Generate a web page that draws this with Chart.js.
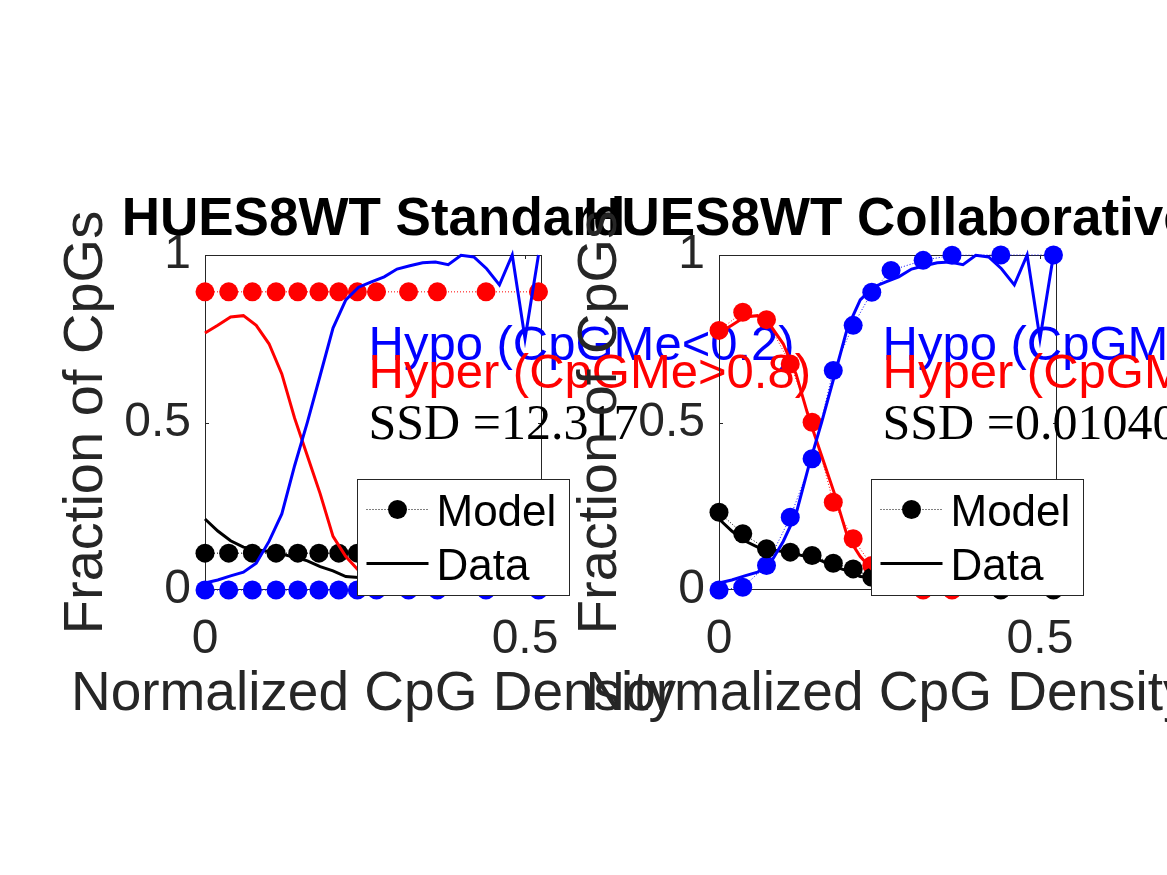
<!DOCTYPE html>
<html>
<head>
<meta charset="utf-8">
<script src="https://cdn.jsdelivr.net/npm/chart.js@4.4.0/dist/chart.umd.min.js"></script>
<style>
  html, body { margin: 0; padding: 0; background: #fff; }
  #wrap { position: relative; width: 1167px; height: 875px; overflow: hidden; }
  #wrap canvas { position: absolute; left: 0; top: 0; }
</style>
</head>
<body>
<div id="wrap">
  <canvas id="standard" width="1167" height="875"></canvas>
  <canvas id="collab" width="1167" height="875"></canvas>
</div>
<script>
// measured data curves (same in both panels)
const densityGrid = [0, 0.02, 0.04, 0.06, 0.08, 0.10, 0.12, 0.14, 0.16, 0.18, 0.20, 0.22, 0.24, 0.26,
  0.28, 0.30, 0.32, 0.34, 0.36, 0.38, 0.40, 0.42, 0.44, 0.46, 0.48, 0.50, 0.521];
const dataHypo = [0.021, 0.03, 0.042, 0.053, 0.08, 0.145, 0.227, 0.371, 0.501, 0.641, 0.782, 0.866, 0.904, 0.92,
  0.935, 0.958, 0.968, 0.977, 0.979, 0.971, 0.999, 0.994, 0.959, 0.911, 1.0, 0.75, 1.0];
const dataHyper = [0.767, 0.79, 0.815, 0.819, 0.79, 0.735, 0.645, 0.513, 0.40, 0.287, 0.16, 0.10, 0.058, 0.04,
  0.028, 0.02, 0.015, 0.012, 0.01, 0.008, 0.006, 0.005, 0.004, 0.004, 0.003, 0.003, 0.002];
const dataMid = [0.212, 0.176, 0.147, 0.128, 0.12, 0.115, 0.107, 0.098, 0.087, 0.07, 0.057, 0.04, 0.037, 0.033,
  0.028, 0.024, 0.02, 0.017, 0.015, 0.013, 0.01, 0.009, 0.008, 0.007, 0.006, 0.005, 0.005];

// model points
const modelDensity = [0, 0.037, 0.074, 0.111, 0.145, 0.178, 0.209, 0.238, 0.268, 0.318, 0.363, 0.439, 0.521];
const standardHypo = [0, 0, 0, 0, 0, 0, 0, 0, 0, 0, 0, 0, 0];
const standardHyper = [0.89, 0.89, 0.89, 0.89, 0.89, 0.89, 0.89, 0.89, 0.89, 0.89, 0.89, 0.89, 0.89];
const standardMid = [0.11, 0.11, 0.11, 0.11, 0.11, 0.11, 0.11, 0.11, 0.11, 0.11, 0.11, 0.11, 0.11];
const collabHypo = [0, 0.008, 0.073, 0.217, 0.392, 0.655, 0.79, 0.889, 0.954, 0.984, 0.999, 1.0, 1.0];
const collabHyper = [0.775, 0.829, 0.807, 0.675, 0.501, 0.262, 0.153, 0.073, 0.03, 0, 0, 0.002, 0.002];
const collabMid = [0.232, 0.168, 0.123, 0.113, 0.103, 0.08, 0.063, 0.038, 0.02, 0.012, 0.012, 0, 0];

const xTicks = [0, 0.5];
const xTickLabels = ['0', '0.5'];
const yTicks = [0, 0.5, 1];
const yTickLabels = ['0', '0.5', '1'];

const AXIS_GRAY = '#262626';
const SANS = '"Liberation Sans", Arial, Helvetica, sans-serif';
const SERIF = '"Liberation Serif", "Times New Roman", serif';

function pts(xs, ys) {
  return xs.map((x, i) => ({ x: x, y: ys[i] }));
}

function modelSet(ys, color) {
  return {
    data: pts(modelDensity, ys),
    borderColor: color,
    borderWidth: 1,
    borderDash: [1, 2],
    pointRadius: 9.5,
    pointHoverRadius: 9.5,
    pointBackgroundColor: color,
    pointBorderWidth: 0,
    tension: 0,
    clip: false,
    order: 1
  };
}

function dataSet(ys, color) {
  return {
    data: pts(densityGrid, ys),
    borderColor: color,
    borderWidth: 3,
    pointRadius: 0,
    tension: 0,
    clip: false,
    order: 0
  };
}

const matlabAxes = {
  id: 'matlabAxes',
  beforeDatasetsDraw(chart) {
    const { ctx, chartArea: a, scales } = chart;
    ctx.save();
    ctx.strokeStyle = AXIS_GRAY;
    ctx.lineWidth = 1;
    ctx.strokeRect(a.left + 0.5, a.top + 0.5, a.width - 1, a.height - 1);
    ctx.beginPath();
    xTicks.forEach(v => {
      const px = Math.round(scales.x.getPixelForValue(v)) + 0.5;
      ctx.moveTo(px, a.bottom); ctx.lineTo(px, a.bottom - 4);
      ctx.moveTo(px, a.top); ctx.lineTo(px, a.top + 4);
    });
    yTicks.forEach(v => {
      const py = Math.round(scales.y.getPixelForValue(v)) + 0.5;
      ctx.moveTo(a.left, py); ctx.lineTo(a.left + 4, py);
      ctx.moveTo(a.right, py); ctx.lineTo(a.right - 4, py);
    });
    ctx.stroke();
    ctx.restore();
  },
  afterDraw(chart, args, opts) {
    const { ctx, chartArea: a } = chart;
    const cx = (a.left + a.right) / 2;
    const cy = (a.top + a.bottom) / 2;
    ctx.save();

    // title
    ctx.fillStyle = '#000';
    ctx.font = 'bold 53px ' + SANS;
    ctx.textAlign = 'center';
    ctx.textBaseline = 'alphabetic';
    ctx.fillText(opts.title, cx, a.top - 20);

    // axis labels
    ctx.fillStyle = AXIS_GRAY;
    ctx.font = '55px ' + SANS;
    ctx.fillText('Normalized CpG Density', cx, a.bottom + 120);
    ctx.save();
    ctx.font = '56px ' + SANS;
    ctx.translate(a.left - 103, cy);
    ctx.rotate(-Math.PI / 2);
    ctx.fillText('Fraction of CpGs', 0, 0);
    ctx.restore();

    // notes
    ctx.textAlign = 'left';
    const tx = a.left + 163.5;
    ctx.font = '49px ' + SANS;
    ctx.fillStyle = '#0000ff';
    ctx.fillText('Hypo (CpGMe<0.2)', tx, a.top + 105);
    ctx.fillStyle = '#ff0000';
    ctx.fillText('Hyper (CpGMe>0.8)', tx, a.top + 133);
    ctx.fillStyle = '#000';
    ctx.font = '50px ' + SERIF;
    ctx.fillText(opts.ssd, tx, a.top + 183.5);

    // legend
    const bx = a.left + 152.5, by = a.top + 224.5, bw = 212, bh = 116;
    ctx.fillStyle = '#fff';
    ctx.fillRect(bx, by, bw, bh);
    ctx.strokeStyle = AXIS_GRAY;
    ctx.lineWidth = 1;
    ctx.strokeRect(bx, by, bw, bh);
    const y1 = by + 30, y2 = by + 84;
    ctx.strokeStyle = '#000';
    ctx.setLineDash([1, 2]);
    ctx.beginPath();
    ctx.moveTo(bx + 9, y1); ctx.lineTo(bx + 70, y1);
    ctx.stroke();
    ctx.setLineDash([]);
    ctx.fillStyle = '#000';
    ctx.beginPath();
    ctx.arc(bx + 40, y1, 9.5, 0, Math.PI * 2);
    ctx.fill();
    ctx.lineWidth = 3;
    ctx.beginPath();
    ctx.moveTo(bx + 9, y2); ctx.lineTo(bx + 71, y2);
    ctx.stroke();
    ctx.font = '44px ' + SANS;
    ctx.fillText('Model', bx + 79, y1 + 16);
    ctx.fillText('Data', bx + 79, y2 + 16);

    ctx.restore();
  }
};

const panels = [
  { canvas: 'standard', title: 'HUES8WT Standard', ssd: 'SSD =12.317',
    hypo: standardHypo, hyper: standardHyper, mid: standardMid, left: 205, right: 542 },
  { canvas: 'collab', title: 'HUES8WT Collaborative', ssd: 'SSD =0.01040',
    hypo: collabHypo, hyper: collabHyper, mid: collabMid, left: 719, right: 1057 }
];

const charts = panels.map(p => new Chart(document.getElementById(p.canvas), {
  type: 'line',
  data: {
    datasets: [
      dataSet(dataHypo, '#0000ff'),
      dataSet(dataHyper, '#ff0000'),
      dataSet(dataMid, '#000000'),
      modelSet(p.mid, '#000000'),
      modelSet(p.hyper, '#ff0000'),
      modelSet(p.hypo, '#0000ff')
    ]
  },
  options: {
    responsive: false,
    animation: false,
    devicePixelRatio: 1,
    layout: { padding: { left: 0, top: 255, right: 1167 - p.right, bottom: 0 } },
    plugins: {
      legend: { display: false },
      tooltip: { enabled: false },
      matlabAxes: { title: p.title, ssd: p.ssd }
    },
    scales: {
      x: {
        type: 'linear',
        min: 0,
        max: 0.5265,
        grid: { display: false, drawTicks: false },
        border: { display: false },
        afterBuildTicks: s => { s.ticks = xTicks.map(v => ({ value: v })); },
        afterFit: s => { s.height = 285; s.paddingLeft = 0; s.paddingRight = 0; },
        ticks: {
          autoSkip: false,
          maxRotation: 0,
          padding: 21,
          color: AXIS_GRAY,
          font: { family: SANS, size: 48 },
          callback: (v, i) => xTickLabels[i]
        }
      },
      y: {
        type: 'linear',
        min: 0,
        max: 1,
        grid: { display: false, drawTicks: false },
        border: { display: false },
        afterBuildTicks: s => { s.ticks = yTicks.map(v => ({ value: v })); },
        afterFit: s => { s.width = p.left; s.paddingTop = 0; s.paddingBottom = 0; },
        ticks: {
          autoSkip: false,
          padding: 14,
          color: AXIS_GRAY,
          font: { family: SANS, size: 48 },
          callback: (v, i) => yTickLabels[i]
        }
      }
    }
  },
  plugins: [matlabAxes]
}));
</script>
</body>
</html>
